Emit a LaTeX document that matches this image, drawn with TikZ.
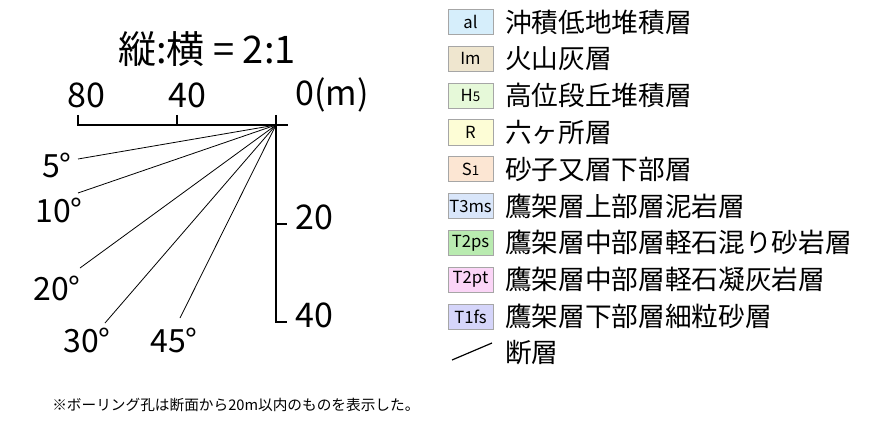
\documentclass[tikz,border=0pt]{standalone}
\usepackage{fontspec}
\setmainfont{Noto Sans CJK JP}
\usetikzlibrary{positioning}

\definecolor{alcol}{HTML}{D6EEFB}
\definecolor{imcol}{HTML}{EFE6CF}
\definecolor{hcol}{HTML}{E6F9D9}
\definecolor{rcol}{HTML}{FDFDD6}
\definecolor{scol}{HTML}{FCE6D3}
\definecolor{tmscol}{HTML}{D9E6FA}
\definecolor{tpscol}{HTML}{B9EBB0}
\definecolor{tptcol}{HTML}{FBD5F7}
\definecolor{tfscol}{HTML}{D5D5FA}
\newcommand\lowdigit[1]{{\fontsize{10}{10}\selectfont #1}}

\begin{document}
\begin{tikzpicture}[x=0.75pt,y=-0.75pt,
      axis/.style={line width=0.9pt},
      dipline/.style={line width=0.6pt},
      ticklabel/.style={inner sep=0pt, font=\fontsize{25.5}{26}\selectfont},
      diplabel/.style={inner sep=0pt, font=\fontsize{24}{26}\selectfont},
      legbox/.style={draw=black!35, line width=0.6pt, minimum width=33.75pt, minimum height=18.75pt, inner sep=0pt, font=\fontsize{12.5}{12.5}\selectfont},
      legtext/.style={anchor=west, inner sep=0pt, font=\fontsize{20}{22}\selectfont}
    ]
    \useasboundingbox (0,0) rectangle (887,424);

    % scale
    \node[inner sep=0pt, font=\fontsize{28.5}{30}\selectfont] (ratio) at (207,49) {縦:横 = 2:1};
    \coordinate (o) at (276,125);
    \coordinate (h80) at (78,125);
    \coordinate (h40) at (177,125);
    \coordinate (v20) at (276,224);
    \coordinate (v40) at (276,322);
    \draw[axis] ([yshift=7.5pt]h80) -- (h80) -- ([xshift=9pt]o);
    \draw[axis] ([yshift=7.5pt]h40) -- (h40);
    \draw[axis] ([yshift=7.5pt]o) -- (v40) -- ([xshift=8.25pt]v40);
    \draw[axis] (v20) -- ([xshift=8.25pt]v20);
    \node[ticklabel] (t80) at (86,95) {80};
    \node[ticklabel] (t40) at (187,95) {40};
    \node[ticklabel] (t0) at (332,95) {0(m)};
    \node[ticklabel] (t20v) at (314,217) {20};
    \node[ticklabel] (t40v) at (314,315) {40};
    \foreach \dip/\ex/\ey/\lx/\ly in {5/78/159/57/165,10/78/193/59/210,20/80/268/57/288,30/105/323/87/340,45/180/318/174/340}{%
      \coordinate (d\dip) at (\ex,\ey);
      \draw[dipline] (o) -- (d\dip);
      \node[diplabel] (l\dip) at (\lx,\ly) {\dip°};
    }

    % legend
    \foreach \row/\lcol/\lcode/\lname in {1/alcol/al/沖積低地堆積層,2/imcol/Im/火山灰層,3/hcol/{H\lowdigit{5}}/高位段丘堆積層,4/rcol/R/六ヶ所層,5/scol/{S\lowdigit{1}}/砂子又層下部層,6/tmscol/T3ms/鷹架層上部層泥岩層,7/tpscol/T2ps/鷹架層中部層軽石混り砂岩層,8/tptcol/T2pt/鷹架層中部層軽石凝灰岩層,9/tfscol/T1fs/鷹架層下部層細粒砂層}{%
      \node[legbox, fill=\lcol] (box\row) at (470.5,{22+36.8*(\row-1)}) {\lcode};
      \node[legtext] (name\row) at (505,{22+36.8*(\row-1)}) {\lname};
    }
    \coordinate (f1) at (452,360);
    \coordinate (f2) at (492,343);
    \draw[line width=0.9pt] (f1) -- (f2);
    \node[legtext] (fault) at (505,353) {断層};

    % note
    \node[anchor=west, inner sep=0pt, font=\fontsize{11}{12}\selectfont] (note) at (52,405) {※ボーリング孔は断面から20m以内のものを表示した。};
  \end{tikzpicture}
\end{document}
